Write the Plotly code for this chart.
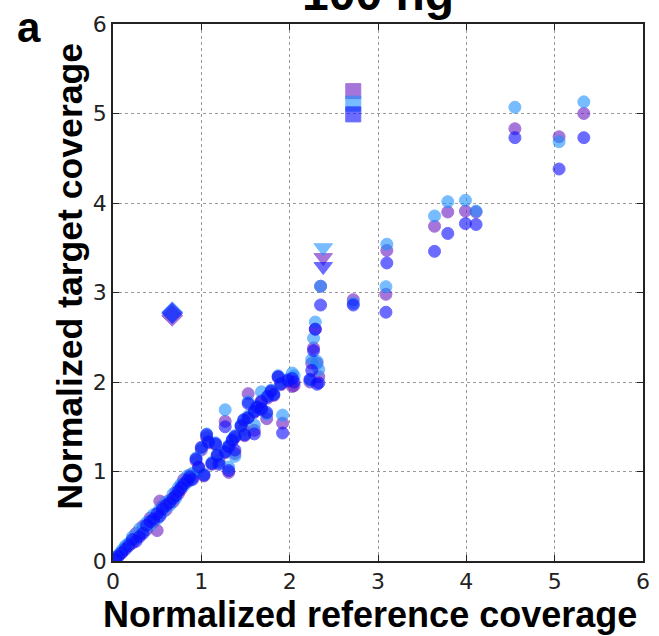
import plotly.graph_objects as go

# Normalized reference coverage (shared x for the three series)
ref = [0.03, 0.06, 0.10, 0.14, 0.18, 0.22, 0.26, 0.30, 0.34, 0.38,
       0.42, 0.46, 0.50, 0.53, 0.56, 0.60, 0.64, 0.68, 0.71, 0.74,
       0.77, 0.80, 0.84, 0.87, 0.90, 0.94, 0.97, 1.00, 1.03, 1.06,
       1.08, 1.12, 1.16, 1.18, 1.20, 1.27, 1.27, 1.31, 1.31, 1.35,
       1.38, 1.38, 1.45, 1.48, 1.49, 1.53, 1.53, 1.60, 1.60, 1.63,
       1.68, 1.68, 1.74, 1.75, 1.79, 1.82, 1.87, 1.90, 1.92, 1.98,
       2.03, 2.05, 2.23, 2.25, 2.27, 2.29, 2.31, 2.33, 2.35, 2.72,
       3.09, 3.10, 3.64, 3.79, 3.99, 4.11, 4.55, 5.05, 5.33]

# Normalized target coverage, three replicates
tgt_lightblue = [0.03, 0.07, 0.12, 0.17, 0.20, 0.27, 0.25, 0.36, 0.33, 0.43,
                 0.40, 0.52, 0.47, 0.58, 0.54, 0.66, 0.62, 0.75, 0.70, 0.82,
                 0.86, 0.84, 0.95, 0.90, 0.98, 1.15, 1.02, 1.26, 0.97, 1.42,
                 1.34, 1.10, 1.32, 1.19, 1.10, 1.69, 1.23, 1.05, 1.29, 1.36,
                 1.40, 1.17, 1.52, 1.58, 1.42, 1.78, 1.62, 1.52, 1.68, 1.73,
                 1.89, 1.71, 1.64, 1.84, 1.91, 1.87, 2.07, 1.99, 1.63, 2.03,
                 2.10, 2.07, 2.02, 2.25, 2.49, 2.67, 2.23, 2.14, 3.07, 2.88,
                 3.065, 3.54, 3.855, 4.015, 4.03, 3.91, 5.07, 4.685, 5.13]
tgt_purple = [0.04, 0.06, 0.10, 0.15, 0.19, 0.20, 0.31, 0.29, 0.39, 0.35,
              0.48, 0.44, 0.34, 0.67, 0.61, 0.57, 0.68, 0.66, 0.77, 0.75,
              0.80, 0.91, 0.88, 0.96, 0.93, 1.12, 1.04, 1.24, 0.95, 1.38,
              1.32, 1.08, 1.30, 1.17, 1.12, 1.56, 1.21, 0.99, 1.27, 1.34,
              1.38, 1.20, 1.50, 1.47, 1.40, 1.87, 1.60, 1.46, 1.66, 1.71,
              1.79, 1.69, 1.59, 1.82, 1.89, 1.85, 2.05, 1.97, 1.54, 2.01,
              1.95, 1.96, 2.00, 2.21, 2.38, 2.59, 2.21, 2.06, 3.07, 2.92,
              2.98, 3.47, 3.74, 3.90, 3.91, 3.90, 4.83, 4.74, 5.00]
tgt_blue = [0.02, 0.05, 0.09, 0.13, 0.17, 0.24, 0.22, 0.27, 0.31, 0.40,
            0.44, 0.47, 0.53, 0.50, 0.58, 0.62, 0.65, 0.70, 0.73, 0.78,
            0.82, 0.86, 0.90, 0.94, 0.91, 1.14, 1.05, 1.27, 0.96, 1.41,
            1.33, 1.09, 1.31, 1.18, 1.08, 1.50, 1.22, 1.01, 1.28, 1.35,
            1.39, 1.24, 1.51, 1.575, 1.41, 1.76, 1.60, 1.42, 1.67, 1.72,
            1.78, 1.70, 1.66, 1.84, 1.90, 1.86, 2.06, 1.98, 1.43, 2.02,
            2.04, 2.00, 2.03, 2.13, 2.35, 2.59, 1.975, 1.99, 2.86, 2.86,
            2.78, 3.33, 3.46, 3.66, 3.77, 3.76, 4.73, 4.38, 4.73]

# Highlighted outliers: (reference, target) for each replicate
diamond_x = [0.67, 0.67, 0.67]
diamond_y = [2.78, 2.74, 2.77]
triangle_x = [2.38, 2.38, 2.38]
triangle_y = [3.50, 3.39, 3.29]
square_x = [2.72, 2.72, 2.72]
square_y = [5.11, 5.25, 4.99]

series_names = ["Replicate 1", "Replicate 2", "Replicate 3"]
colors = ["#1e90ff", "#6a1bc2", "#0a0aff"]
tgts = [tgt_lightblue, tgt_purple, tgt_blue]
draw_order = [1, 0, 2]  # purple first, then light blue, then blue on top

x_ticks = [0, 1, 2, 3, 4, 5, 6]
y_ticks = [0, 1, 2, 3, 4, 5, 6]

fig = go.Figure()
for i in draw_order:
    col = colors[i]
    fig.add_trace(go.Scatter(
        x=ref, y=tgts[i], mode="markers", name=series_names[i],
        marker=dict(symbol="circle", size=12, color=col, opacity=0.6,
                    line=dict(width=1, color=col)),
        cliponaxis=True, showlegend=False))

for i in draw_order:
    col = colors[i]
    fig.add_trace(go.Scatter(
        x=[diamond_x[i]], y=[diamond_y[i]], mode="markers",
        marker=dict(symbol="diamond", size=16, color=col, opacity=0.6,
                    line=dict(width=1, color=col)), showlegend=False))
    fig.add_trace(go.Scatter(
        x=[triangle_x[i]], y=[triangle_y[i]], mode="markers",
        marker=dict(symbol="triangle-down", size=16, color=col, opacity=0.6,
                    line=dict(width=1, color=col)), showlegend=False))
    fig.add_trace(go.Scatter(
        x=[square_x[i]], y=[square_y[i]], mode="markers",
        marker=dict(symbol="square", size=15, color=col, opacity=0.6,
                    line=dict(width=1, color=col)), showlegend=False))

L, T, W, H = 113, 24, 537, 537
axis_common = dict(
    range=[0, 6], showgrid=True, gridcolor="#9a9a9a", griddash="dot",
    gridwidth=1, zeroline=False, showline=True, linecolor="#222222",
    linewidth=1.5, mirror="ticks", ticks="inside", ticklen=6,
    tickcolor="#222222", tickwidth=1,
    tickfont=dict(family="DejaVu Sans", size=22, color="#222222"),
)
fig.update_xaxes(**axis_common, tickvals=x_ticks,
                 ticktext=[str(v) for v in x_ticks])
fig.update_yaxes(**axis_common, tickvals=y_ticks,
                 ticktext=[str(v) for v in y_ticks])


def py(pixel_y):
    return (T + H - pixel_y) / H


def px(pixel_x):
    return (pixel_x - L) / W


fig.update_layout(
    width=659, height=636,
    margin=dict(l=L, r=659 - L - W, t=T, b=636 - T - H, pad=0),
    paper_bgcolor="white", plot_bgcolor="white",
    showlegend=False,
    annotations=[
        dict(text="<b>100 ng</b>", xref="paper", yref="paper", x=px(382),
             y=py(-7), xanchor="center", yanchor="middle", showarrow=False,
             font=dict(family="Liberation Sans", size=48, color="black")),
        dict(text="<b>a</b>", xref="paper", yref="paper",
             x=px(28), y=py(28),
             xanchor="center", yanchor="middle", showarrow=False,
             font=dict(family="Liberation Sans", size=42, color="black")),
        dict(text="<b>Normalized reference coverage</b>", xref="paper",
             yref="paper", x=px(373), y=py(614),
             xanchor="center", yanchor="middle", showarrow=False,
             font=dict(family="Liberation Sans", size=36, color="black")),
        dict(text="<b>Normalized target coverage</b>", xref="paper",
             yref="paper", x=px(69), y=py(276),
             xanchor="center", yanchor="middle", textangle=-90,
             showarrow=False,
             font=dict(family="Liberation Sans", size=35.6, color="black")),
    ],
)

assert len(ref) == len(tgt_lightblue) == len(tgt_purple) == len(tgt_blue)
fig.write_html("out.html")
